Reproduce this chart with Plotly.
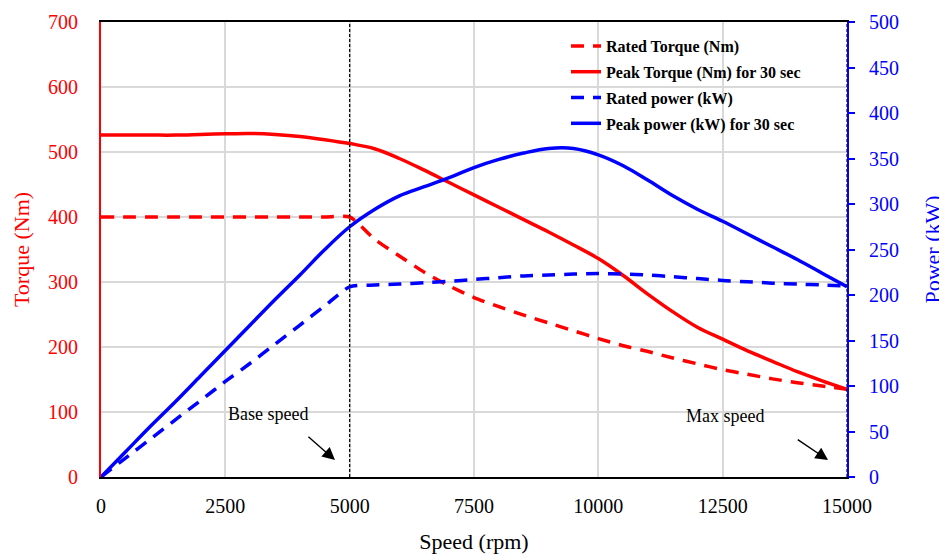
import plotly.graph_objects as go

# ---- data ----
speed = [0, 500, 1000, 1500, 2000, 2500, 3000, 3500, 4000, 4500, 5000,
         5500, 6000, 6500, 7000, 7500, 8000, 8500, 9000, 9500, 10000,
         10500, 11000, 11500, 12000, 12500, 13000, 13500, 14000, 14500, 15000]

rated_torque = [400, 400, 400, 400, 400, 400, 400, 400, 400, 400, 400,
                366, 340, 315, 294, 276, 262, 249, 237, 225, 213,
                202, 193, 183, 174, 165, 158, 151, 145, 140, 135]

peak_torque = [526, 526, 526, 526, 527, 528, 528.5, 527, 524, 519, 513,
               505, 490, 472, 453, 434, 415, 396, 377, 357, 336,
               310, 281, 254, 230, 212, 194, 178, 162, 148, 135]

rated_power = [0, 21, 42, 63, 84, 105, 125, 146, 167, 188, 209,
               211, 212, 213.5, 215, 217, 219, 221, 222, 223, 223.5,
               223, 222, 220, 218, 216, 214.5, 213, 212, 211, 210]

peak_power = [0, 28, 56, 83, 111, 139, 167, 195, 222, 250, 275,
              294, 309, 319, 329, 340, 349, 356, 361, 361, 354,
              342, 326, 309, 294, 281, 267, 253, 239, 224, 209]

base_speed = 5000
max_speed = 15000
x_ticks = [0, 2500, 5000, 7500, 10000, 12500, 15000]

FONT = "Liberation Serif"
RED = "#ff0000"
BLUE = "#0000ff"

# page body adds an 8px offset; plot area target: x 101..847, y 22..477 (window px)
W, H = 939, 552
L, T = 93, 14
PW, PH = 746, 455

fig = go.Figure()
fig.add_trace(go.Scatter(x=speed, y=rated_torque, name="Rated Torque (Nm)",
                         mode="lines", legendgroup="a",
                         line=dict(color=RED, width=3.5, dash="13px,9px",
                                   shape="spline", smoothing=0.6)))
fig.add_trace(go.Scatter(x=speed, y=peak_torque, name="Peak Torque (Nm) for 30 sec",
                         mode="lines", legendgroup="b",
                         line=dict(color=RED, width=3.5, shape="spline", smoothing=1.0)))
fig.add_trace(go.Scatter(x=speed, y=rated_power, name="Rated power (kW)",
                         mode="lines", yaxis="y2", legendgroup="c",
                         line=dict(color=BLUE, width=3.5, dash="13px,9px",
                                   shape="spline", smoothing=0.6)))
fig.add_trace(go.Scatter(x=speed, y=peak_power, name="Peak power (kW) for 30 sec",
                         mode="lines", yaxis="y2", legendgroup="d",
                         line=dict(color=BLUE, width=3.5, shape="spline", smoothing=1.0)))

# vertical dashed marker lines
for sx in (base_speed, max_speed):
    fig.add_shape(type="line", xref="x", yref="paper", x0=sx, x1=sx, y0=0, y1=1,
                  line=dict(color="black", width=1.2, dash="3px,2px"), layer="above")

# white legend box (plot-relative pixels)
fig.add_shape(type="rect", xref="paper", yref="paper",
              x0=392 / PW, x1=1, y0=(PH - 111) / PH, y1=(PH - 8) / PH,
              fillcolor="white", line=dict(width=0), layer="between")

# annotations
fig.add_annotation(x=3360, y=97, xref="x", yref="y", text="Base speed",
                   showarrow=False, font=dict(family=FONT, size=18, color="black"))
fig.add_annotation(x=4705, y=26, xref="x", yref="y", ax=4140, ay=64,
                   axref="x", ayref="y", text="", showarrow=True,
                   arrowhead=2, arrowsize=1.8, arrowwidth=1.4, arrowcolor="black")
fig.add_annotation(x=12550, y=94, xref="x", yref="y", text="Max speed",
                   showarrow=False, font=dict(family=FONT, size=18, color="black"))
fig.add_annotation(x=14620, y=26, xref="x", yref="y", ax=13980, ay=59,
                   axref="x", ayref="y", text="", showarrow=True,
                   arrowhead=2, arrowsize=1.8, arrowwidth=1.4, arrowcolor="black")

fig.update_layout(
    width=W, height=H,
    margin=dict(l=L, r=W - L - PW, t=T, b=H - T - PH, autoexpand=False),
    paper_bgcolor="white", plot_bgcolor="white",
    font=dict(family=FONT, size=20, color="black"),
    showlegend=True,
    legend=dict(x=465 / PW, y=(PH - 7) / PH, xanchor="left", yanchor="top",
                bgcolor="rgba(0,0,0,0)", borderwidth=0, tracegroupgap=2,
                font=dict(family=FONT, size=16, color="black", weight="bold")),
    xaxis=dict(range=[0, 15000], tickvals=x_ticks, ticktext=[str(v) for v in x_ticks],
               showgrid=True, gridcolor="#d9d9d9", gridwidth=1.5,
               showline=True, linecolor="black", linewidth=2, mirror=True,
               ticks="", ticklabelstandoff=10, zeroline=False, automargin=False,
               tickfont=dict(family=FONT, size=20, color="black"),
               title=dict(text="Speed (rpm)", font=dict(family=FONT, size=22, color="black"),
                          standoff=18)),
    yaxis=dict(range=[0, 700], dtick=100, showgrid=True, gridcolor="#d9d9d9", gridwidth=1.5,
               showline=True, linecolor=RED, linewidth=2, ticks="", zeroline=False,
               ticklabelstandoff=17, automargin=False,
               tickfont=dict(family=FONT, size=20, color=RED),
               title=dict(text="Torque (Nm)", font=dict(family=FONT, size=22, color=RED),
                          standoff=12)),
    yaxis2=dict(range=[0, 500], dtick=50, overlaying="y", side="right", showgrid=False,
                showline=True, linecolor=BLUE, linewidth=2, ticks="outside", ticklen=6,
                tickcolor=BLUE, tickwidth=1.5, zeroline=False, ticklabelstandoff=10,
                automargin=False,
                tickfont=dict(family=FONT, size=20, color=BLUE),
                title=dict(text="Power (kW)", font=dict(family=FONT, size=22, color=BLUE),
                           standoff=27)),
)

fig.write_html("out.html")
